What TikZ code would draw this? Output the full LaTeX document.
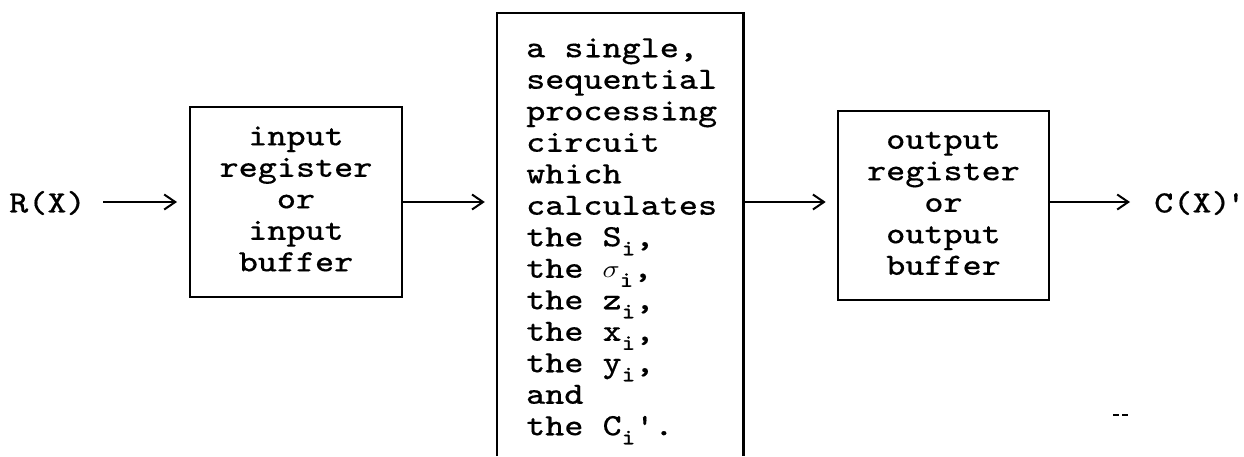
\documentclass[tikz,border=0pt]{standalone}
\usepackage{fontspec}
\usepackage{graphicx}
\usetikzlibrary{arrows.meta}
% typewriter face used for every label
\newfontfamily\tw{lmmono8-regular.otf}[FakeBold=0.3]
\newcommand{\mt}[1]{{\tw\fontsize{31}{31.5}\selectfont\scalebox{1.16}[1]{#1}}}
\newcommand{\sub}[1]{\raisebox{-9pt}[0pt][0pt]{\fontsize{22}{22}\selectfont #1}}
\begin{document}
\begin{tikzpicture}[x=1pt,y=-1pt,
  boxline/.style={line width=2.6pt},
  blockbox/.style={boxline,draw,rectangle,inner sep=0pt},
  arr/.style={line width=2pt,-{Straight Barb[length=11pt,width=15pt,line width=2pt]}},
  lbl/.style={inner sep=0pt}]
\useasboundingbox (0,0) rectangle (1244,456);

% input stage
\node[lbl,anchor=west] (rx) at (9,203) {\mt{R(X)}};
\node[blockbox,minimum width=212pt,minimum height=190pt] (in) at (296,202)
  {\mt{\begin{tabular}{@{}c@{}}input\\register\\or\\input\\buffer\end{tabular}}};

% processing circuit, open at the bottom edge
\node[lbl,minimum width=246pt,minimum height=443pt] (proc) at (620,234.5) {};
\draw[boxline] (proc.south west) -- (proc.north west) -- (proc.north east) -- (proc.south east);
\node[lbl,anchor=north west] (proctext) at (526,35)
  {\mt{\begin{tabular}{@{}l@{}}a single,\\sequential\\processing\\circuit\\which\\calculates\\
   the S\sub{i},\\the $\sigma$\sub{i},\\the z\sub{i},\\the x\sub{i},\\the y\sub{i},\\and\\
   the C\sub{i}\char"27.\end{tabular}}};

% output stage
\node[blockbox,minimum width=211pt,minimum height=189pt] (out) at (943.5,205.5)
  {\mt{\begin{tabular}{@{}c@{}}output\\register\\or\\output\\buffer\end{tabular}}};
\node[lbl,anchor=west] (cx) at (1154,203)
  {\mt{C(X)\kern-0.12em\makebox[0.36em][l]{\char"27}}};

% connectors
\coordinate (a1s) at (103,202);
\coordinate (a1e) at (177,202);
\draw[arr] (a1s) -- (a1e);
\draw[arr] (in.east |- 0,202) -- ([xshift=-12pt]proc.west |- 0,202);
\draw[arr] (proc.east |- 0,202) -- ([xshift=-11pt]out.west |- 0,202);
\draw[arr] (out.east |- 0,202) -- ([xshift=-24pt]cx.west |- 0,202);

% small stray mark
\draw[line width=1.5pt] (1113,415) -- (1119,415) (1122,415) -- (1128,415);
\end{tikzpicture}
\end{document}
